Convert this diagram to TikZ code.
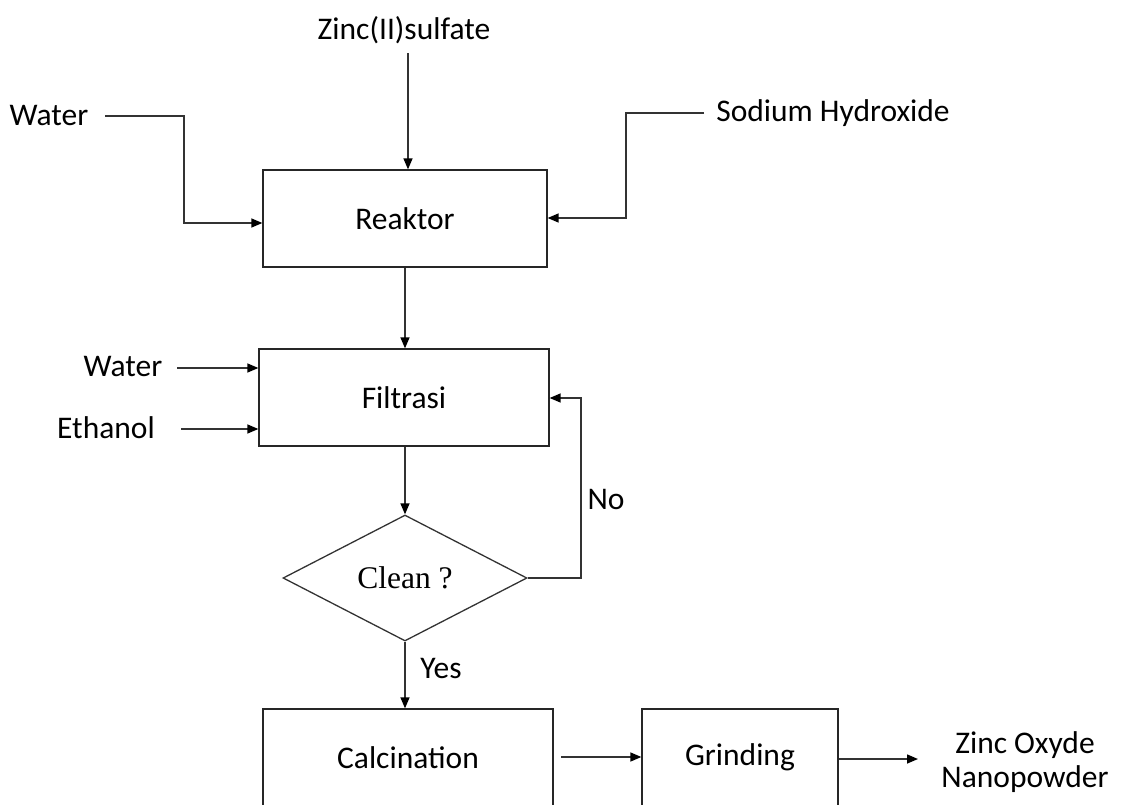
\documentclass[tikz,border=0pt]{standalone}
\usepackage{fontspec}
\setmainfont{Carlito}
\newfontfamily\serifface{Liberation Serif}
\usetikzlibrary{arrows.meta,shapes.geometric}
\begin{document}
\begin{tikzpicture}[x=1pt,y=-1pt,
  every node/.style={font=\fontsize{31.5}{38}\selectfont},
  procbox/.style={draw=black!85,line width=1.3pt,minimum width=#1,minimum height=97pt,inner sep=0pt},
  flow/.style={draw=black!80,line width=1.4pt,-{Triangle[length=11pt,width=9pt,fill=black,color=black]}},
  lbl/.style={inner sep=0pt,anchor=center}]
\useasboundingbox (0,0) rectangle (1127,804);
\clip (0,0) rectangle (1127,804);
% boxes
\node[procbox=284pt] (reaktor) at (405,218.5) {Reaktor};
\node[procbox=290pt] (filtrasi) at (404,397.5) {Filtrasi};
\node[draw=black!80,line width=1.3pt,diamond,minimum width=244pt,minimum height=126pt,inner sep=0pt,aspect=2] (clean) at (405,578) {\serifface Clean ?};
\node[procbox=290pt] (calc) at (408,757.5) {Calcination};
\node[procbox=196pt] (grind) at (740,757.5) {\raisebox{-2pt}{Grinding}};
% texts
\node[lbl] (znso4) at (404,30) {Zinc(II)sulfate};
\node[lbl] (water1) at (49,116) {Water};
\node[lbl] (naoh) at (833,113) {Sodium Hydroxide};
\node[lbl] (water2) at (123,367) {Water};
\node[lbl] (ethanol) at (106,428) {Ethanol};
\node[lbl] (no) at (606,499) {No};
\node[lbl] (yes) at (441,668) {Yes};
\node[lbl,align=center,font=\fontsize{31.5}{34}\selectfont] (zno) at (1025,762) {Zinc Oxyde\\Nanopowder};
% coordinates
\coordinate (w1s) at (105,116);
\coordinate (nas) at (704,113);
\coordinate (w2s) at (177,368);
\coordinate (ets) at (181,429);
\coordinate (zns) at (408,53);
\coordinate (c2s) at (561,757);
\coordinate (g2e) at (918,759);
% connectors
\draw[flow] (zns) -- (zns |- reaktor.north);
\draw[flow] (w1s) -| (184,223) -- (reaktor.west |- 0,223);
\draw[flow] (nas) -| (626,218) -- (reaktor.east |- 0,218);
\draw[flow] (reaktor.south) -- (filtrasi.north -| reaktor.south);
\draw[flow] (w2s) -- (filtrasi.west |- w2s);
\draw[flow] (ets) -- (filtrasi.west |- ets);
\draw[flow] (filtrasi.south -| clean.north) -- (clean.north);
\draw[flow] (clean.east) -| (581,398) -- (filtrasi.east |- 0,398);
\draw[flow] (clean.south) -- (clean.south |- calc.north);
\draw[flow] (c2s) -- (grind.west |- c2s);
\draw[flow] (grind.east |- g2e) -- (g2e);
\end{tikzpicture}
\end{document}
